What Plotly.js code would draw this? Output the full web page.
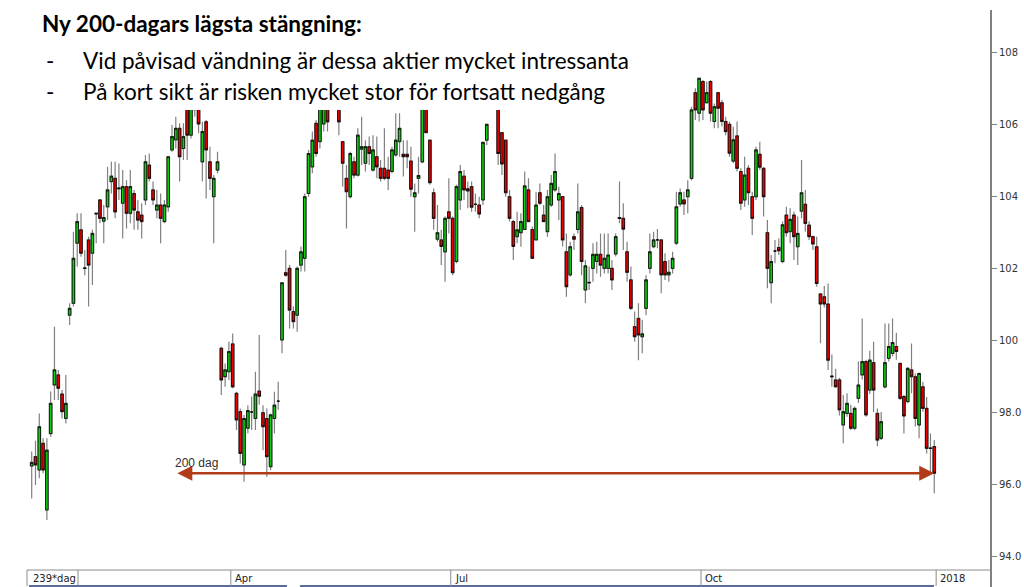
<!DOCTYPE html>
<html><head><meta charset="utf-8">
<script src="https://cdn.plot.ly/plotly-3.0.1.min.js"></script>
<style>html,body{margin:0;padding:0;background:#fff;overflow:hidden}#chart{width:1024px;height:587px}</style>
</head><body><div id="chart"></div>
<script>
// ---- OHLC data (239 trading days) ----
const openP = [
96.5,96.76,96.39,97.13,95.28,97.4,98.75,99.03,98.5,97.82,
100.69,101.02,102.69,103.06,101.99,102.78,102.41,103.5,103.89,103.3,
103.7,104.4,104.49,104.2,103.8,104.26,103.52,104.07,103.56,103.47,
103.89,104.86,104.17,103.61,103.75,103.29,103.7,105.28,105.56,105.88,
105.32,106.6,105.69,106.5,106.6,104.95,106.06,104.95,103.98,104.72,
99.77,98.98,99.12,99.89,98.52,98.01,96.53,97.55,98.0,97.82,
98.58,97.98,97.82,96.48,97.82,98.3,100.0,101.87,101.99,100.79,
100.69,102.08,102.27,104.07,104.81,106.02,105.51,106.0,106.6,106.6,
106.75,106.6,105.51,104.49,103.98,104.95,104.58,105.3,104.91,105.37,
104.72,105.09,104.77,104.77,104.72,104.68,105.14,105.51,
105.16,105.16,104.97,103.98,104.49,104.95,106.6,105.55,104.09,102.8,
102.78,102.45,103.56,103.38,102.18,103.89,104.55,104.2,104.26,103.77,
103.75,103.89,105.55,106.5,106.8,106.6,105.76,105.55,103.98,103.29,
102.87,102.98,103.07,104.17,103.07,102.78,104.09,103.47,103.01,103.75,
104.17,103.89,103.98,102.45,101.81,102.87,103.07,103.68,
101.39,101.6,101.99,102.18,102.38,101.99,101.99,101.99,102.39,103.4,
103.38,102.45,101.67,100.37,100.6,100.09,100.88,101.99,102.59,102.78,
102.78,102.18,101.81,101.99,102.69,103.78,103.89,103.98,104.49,106.87,
106.3,107.18,106.59,107.18,106.07,106.87,106.59,106.07,105.99,104.97,
105.67,104.68,103.89,104.77,103.98,103.98,105.16,
104.77,102.98,101.59,102.47,102.57,102.18,103.47,103.01,103.47,102.59,
103.58,103.77,103.19,102.87,102.59,101.28,101.2,101.0,99.0,98.89,
98.89,97.64,97.96,97.96,97.55,98.38,99.03,99.4,98.61,99.37,
97.96,97.27,98.7,99.49,99.63,99.82,99.35,98.43,98.29,99.17,
98.98,97.64,98.7,98.1,97.0,97.04
];
const highP = [
96.9,97.2,97.96,97.27,97.27,98.57,100.37,99.17,98.61,99.03,
101.02,103.01,103.52,103.52,102.5,102.87,103.06,103.52,103.89,103.75,
104.81,104.95,104.95,104.9,104.72,104.44,104.72,104.17,103.89,103.8,
105.14,105.18,104.4,104.17,104.07,103.89,105.09,105.97,106.2,106.02,
106.02,106.8,106.8,106.7,106.7,106.06,106.11,105.37,104.58,105.23,
99.81,99.35,99.95,100.18,98.56,98.1,97.92,98.19,98.43,99.12,
100.14,98.19,98.1,97.96,98.56,98.84,101.59,102.5,102.08,100.93,
102.04,102.6,104.07,105.28,105.79,106.11,106.6,106.7,106.8,106.9,
106.9,106.7,105.51,104.86,105.23,105.09,105.88,106.2,105.55,105.65,
105.69,105.65,105.0,105.88,105.09,105.37,106.3,106.3,
105.55,105.55,105.37,104.35,105.09,106.7,106.8,105.55,104.21,103.75,
103.06,103.43,104.49,103.43,104.31,104.86,104.72,104.4,104.4,104.07,
103.98,105.51,105.99,106.9,107.0,106.7,105.76,105.55,104.17,103.33,
103.56,103.52,104.68,104.49,103.15,104.12,104.35,103.75,104.17,104.58,
105.18,104.26,103.98,102.96,102.73,102.96,104.35,103.75,
102.22,102.04,102.69,102.73,102.96,102.96,102.96,102.22,102.96,104.4,
103.8,102.73,102.04,100.79,101.02,100.56,101.8,102.96,103.01,103.08,
102.78,102.41,102.22,102.45,104.12,104.21,104.12,104.44,106.48,106.99,
107.27,107.22,107.18,107.22,106.57,106.87,106.67,106.2,106.07,105.93,
106.07,104.77,105.09,104.86,104.12,105.37,105.51,
104.8,103.33,102.36,102.78,102.82,103.29,103.7,103.66,103.57,103.43,
105.0,104.17,103.3,102.9,102.87,101.3,101.5,101.57,99.6,99.2,
98.95,98.47,98.52,98.2,98.15,99.4,100.6,99.45,99.7,99.95,
98.1,98.0,100.46,100.46,100.6,100.2,99.35,98.47,99.25,99.9,
99.07,99.1,98.84,98.42,97.4,97.22
];
const lowP = [
95.6,95.97,96.16,96.3,95.0,97.31,98.33,98.33,97.82,97.68,
100.42,100.93,102.04,102.31,101.8,100.93,101.53,102.69,103.24,102.69,
103.33,104.07,103.38,103.89,102.82,103.1,103.24,103.06,103.06,102.82,
103.75,104.4,103.75,103.38,102.69,103.24,103.56,105.23,105.32,104.4,
105.0,105.0,105.6,106.2,105.74,104.4,103.93,104.17,102.69,104.63,
98.47,98.7,98.89,98.66,97.5,96.57,96.06,97.4,97.5,97.5,
98.2,96.94,96.2,96.39,97.4,98.06,99.63,101.76,100.32,100.32,
100.23,101.9,101.9,103.98,104.63,105.09,105.32,105.79,105.79,106.45,
106.45,105.69,104.26,103.1,103.93,104.49,104.54,104.86,104.68,104.86,
104.68,104.49,104.4,104.44,104.17,104.63,105.09,105.09,
104.54,104.77,103.98,103.01,104.07,104.91,105.74,104.31,103.06,102.73,
102.08,101.62,102.96,101.8,102.13,103.61,103.89,103.66,103.56,103.56,
103.38,103.75,105.42,106.45,106.45,104.86,104.58,103.98,103.29,102.22,
102.69,102.59,103.06,103.29,102.27,102.78,103.75,103.29,102.87,103.7,
104.12,103.33,102.6,101.2,101.76,102.5,102.96,101.8,
101.02,101.39,101.62,101.85,101.76,101.85,101.85,101.39,102.32,103.24,
102.5,101.62,100.83,99.95,99.44,99.63,100.69,101.85,102.55,102.55,
101.3,101.67,101.62,101.85,102.64,103.7,103.47,103.52,104.44,106.11,
106.07,106.11,106.57,106.07,105.88,105.88,105.93,105.69,105.09,104.91,
104.68,103.61,103.7,103.75,102.92,103.89,104.72,
103.43,101.44,101.02,102.13,102.36,102.13,102.87,102.69,102.22,102.08,
103.38,103.01,102.78,102.5,101.48,99.91,100.9,99.17,98.7,98.7,
97.9,97.13,97.87,97.5,97.5,98.25,98.9,97.87,98.5,98.0,
97.05,97.22,98.65,99.4,99.55,99.45,98.33,97.4,98.24,98.52,
97.6,97.27,98.01,96.85,96.3,95.74
];
const closeP = [
96.6,96.53,97.59,96.39,96.94,98.24,99.17,98.66,98.01,98.24,
100.88,102.27,103.29,102.41,102.0,102.08,102.96,103.52,103.38,103.4,
104.17,104.55,103.56,104.22,104.26,103.52,104.26,103.61,103.33,103.29,
104.95,104.49,103.89,103.75,103.38,103.75,105.09,105.65,105.88,105.09,
105.65,105.69,106.6,106.4,106.0,105.79,105.28,104.49,104.49,104.95,
98.89,99.17,99.68,98.7,97.78,96.85,97.82,98.04,98.0,98.5,
98.44,97.59,96.76,97.92,98.19,98.3,101.59,101.8,100.83,100.51,
101.99,102.45,103.98,105.18,105.55,105.18,106.5,106.5,106.06,106.75,
106.6,106.06,104.91,104.12,105.18,104.58,105.69,105.37,105.37,105.18,
105.28,104.81,104.49,104.49,104.49,105.28,105.55,105.88,
105.09,105.09,104.19,104.09,104.57,106.6,105.76,104.37,103.38,102.98,
102.6,103.38,103.38,101.87,104.26,104.68,104.17,104.14,103.69,103.77,
103.5,105.49,105.99,106.8,106.6,105.18,104.89,104.09,103.38,102.6,
103.06,103.29,104.28,103.29,102.27,103.75,103.8,103.29,103.98,104.35,
104.68,104.07,102.78,101.48,102.59,102.8,103.56,102.18,
102.06,101.59,102.38,102.38,102.08,102.27,102.36,101.67,102.87,103.38,
103.08,101.88,100.88,100.09,100.14,100.17,101.67,102.45,102.78,102.78,
101.81,101.81,101.88,102.27,103.7,104.09,103.78,104.17,106.39,106.39,
107.27,106.39,106.87,106.3,106.48,106.44,106.07,105.79,105.19,105.56,
104.77,103.8,104.58,104.09,103.38,105.28,104.8,
103.98,101.99,102.18,102.47,102.48,103.2,102.98,103.35,102.87,102.96,
104.09,103.24,102.87,102.67,101.57,101.0,101.0,99.44,98.98,98.7,
98.06,98.01,98.24,97.55,98.1,98.75,99.4,97.92,99.44,98.61,
97.22,97.73,99.37,99.82,99.93,99.68,98.38,97.89,99.21,98.98,
97.82,99.07,98.1,96.99,96.99,96.3
];
// axis labels
const yTickVals = [94, 96, 98, 100, 102, 104, 106, 108];
const yTickText = ['94.0', '96.0', '98.0', '100', '102', '104', '106', '108'];
const periodLabels = ['Apr', 'Jul', 'Oct', '2018'];
const periodStartIdx = [53, 111, 177, 239];   // first trading day of each period
const spanLabel = '239*dag';
const lookback = 200;
const arrowText = '200 dag';
const titleLines = [
  'Ny 200-dagars lägsta stängning:',
  'Vid påvisad vändning är dessa aktier mycket intressanta',
  'På kort sikt är risken mycket stor för fortsatt nedgång'
];

// ---- layout helpers (pixel -> paper) ----
const W = 1024, H = 587, ML = 0, MR = 34, MT = 10, MB = 0;
const PW = W - ML - MR, PH = H - MT - MB;
const px = x => (x - ML) / PW;
const py = y => (H - MB - y) / PH;

const idx = openP.map((_, i) => i);
const bodyHi = openP.map((o, i) => Math.max(o, closeP[i]));
const bodyLo = openP.map((o, i) => Math.min(o, closeP[i]));

const wickCol = '#808080';
const traces = [
  { type: 'candlestick', x: idx, open: openP, high: highP, low: lowP, close: closeP,
    increasing: { line: { color: wickCol, width: 1.2 }, fillcolor: wickCol },
    decreasing: { line: { color: wickCol, width: 1.2 }, fillcolor: wickCol },
    whiskerwidth: 0, hoverinfo: 'skip', showlegend: false },
  { type: 'candlestick', x: idx, open: openP, high: bodyHi, low: bodyLo, close: closeP,
    increasing: { line: { color: '#000000', width: 0.8 }, fillcolor: '#10d010' },
    decreasing: { line: { color: '#000000', width: 0.8 }, fillcolor: '#f00000' },
    whiskerwidth: 0, hoverinfo: 'skip', showlegend: false }
];

const N = closeP.length;
const lastIdx = N - 1;
const startIdx = lastIdx - lookback;
const lastClose = closeP[lastIdx];

const barTop = 570, barBot = 586;
const shapes = [
  // text panel covering the top-left of the chart
  { type: 'rect', xref: 'paper', yref: 'paper', x0: -0.01, x1: px(682), y0: py(110), y1: 1.1,
    fillcolor: '#ffffff', line: { width: 0 }, layer: 'above' },
  // bottom period bar
  { type: 'line', xref: 'paper', yref: 'paper', x0: px(27), x1: px(990), y0: py(barTop), y1: py(barTop),
    line: { color: '#8c8c8c', width: 1 } },
  { type: 'line', xref: 'paper', yref: 'paper', x0: px(27), x1: px(27), y0: py(barTop), y1: py(barBot),
    line: { color: '#8c8c8c', width: 1 } },
  { type: 'line', xref: 'paper', yref: 'paper', x0: px(78), x1: px(78), y0: py(barTop), y1: py(barBot),
    line: { color: '#8c8c8c', width: 1 } },
  { type: 'line', xref: 'paper', yref: 'paper', x0: px(29), x1: px(287), y0: py(barBot), y1: py(barBot),
    line: { color: '#5b6b9e', width: 2 } },
  { type: 'line', xref: 'paper', yref: 'paper', x0: px(300), x1: px(934), y0: py(barBot), y1: py(barBot),
    line: { color: '#5b6b9e', width: 2 } }
];
periodStartIdx.forEach(i => {
  shapes.push({ type: 'line', xref: 'x', yref: 'paper', x0: i - 0.5, x1: i - 0.5, y0: py(barTop), y1: py(barBot),
    line: { color: '#8c8c8c', width: 1 } });
});

const txtFont = 'Lato, "Open Sans", sans-serif';
const tSize = 22.5;
const annotations = [
  { xref: 'paper', yref: 'paper', x: px(40), y: py(23), xanchor: 'left', yanchor: 'middle', showarrow: false,
    text: '<b>' + titleLines[0] + '</b>', font: { family: txtFont, size: tSize, color: '#000' } },
  { xref: 'paper', yref: 'paper', x: px(44), y: py(60), xanchor: 'left', yanchor: 'middle', showarrow: false,
    text: '-', font: { family: txtFont, size: tSize, color: '#000' } },
  { xref: 'paper', yref: 'paper', x: px(81), y: py(60), xanchor: 'left', yanchor: 'middle', showarrow: false,
    text: titleLines[1], font: { family: txtFont, size: tSize, color: '#000' } },
  { xref: 'paper', yref: 'paper', x: px(44), y: py(91), xanchor: 'left', yanchor: 'middle', showarrow: false,
    text: '-', font: { family: txtFont, size: tSize, color: '#000' } },
  { xref: 'paper', yref: 'paper', x: px(81), y: py(91), xanchor: 'left', yanchor: 'middle', showarrow: false,
    text: titleLines[2], font: { family: txtFont, size: tSize, color: '#000' } },
  // 200-day arrow
  { xref: 'x', yref: 'y', axref: 'x', ayref: 'y', x: lastIdx, y: lastClose, ax: startIdx, ay: lastClose,
    text: '', showarrow: true, arrowside: 'end+start', arrowhead: 2, arrowsize: 1.2, arrowwidth: 2.5,
    arrowcolor: '#b23c17', standoff: 0, startstandoff: 0 },
  { xref: 'x', yref: 'y', x: startIdx - 0.8, y: lastClose, xanchor: 'left', yanchor: 'bottom', yshift: 1,
    showarrow: false, text: arrowText, font: { family: 'Liberation Sans, Arial, sans-serif', size: 12, color: '#303030' } },
  // period bar labels
  { xref: 'paper', yref: 'paper', x: px(31), y: py(578), xanchor: 'left', yanchor: 'middle', showarrow: false,
    text: spanLabel, font: { family: 'DejaVu Sans, sans-serif', size: 10, color: '#202020' } }
];
periodLabels.forEach((t, k) => {
  annotations.push({ xref: 'x', yref: 'paper', x: periodStartIdx[k] - 0.5, xshift: 2, y: py(578),
    xanchor: 'left', yanchor: 'middle', showarrow: false, text: t,
    font: { family: 'DejaVu Sans, sans-serif', size: 10, color: '#202020' } });
});

const layout = {
  width: W, height: H,
  margin: { l: ML, r: MR, t: MT, b: MB, pad: 0 },
  paper_bgcolor: '#ffffff', plot_bgcolor: '#ffffff',
  showlegend: false, hovermode: false, boxgap: 0.05,
  xaxis: { range: [-8.36, 252.7], showgrid: false, zeroline: false, showticklabels: false,
    ticks: '', showline: false, rangeslider: { visible: false }, fixedrange: true },
  yaxis: { side: 'right', range: [93.139, 109.1667], tickvals: yTickVals, ticktext: yTickText,
    ticks: 'outside', ticklen: 5, tickcolor: '#808080', tickwidth: 1,
    showline: true, linecolor: '#808080', linewidth: 2, showgrid: false, zeroline: false,
    tickfont: { family: 'DejaVu Sans, sans-serif', size: 10, color: '#333333' }, fixedrange: true },
  shapes: shapes, annotations: annotations
};

Plotly.newPlot('chart', traces, layout, { staticPlot: true, displayModeBar: false });
</script>
</body></html>
